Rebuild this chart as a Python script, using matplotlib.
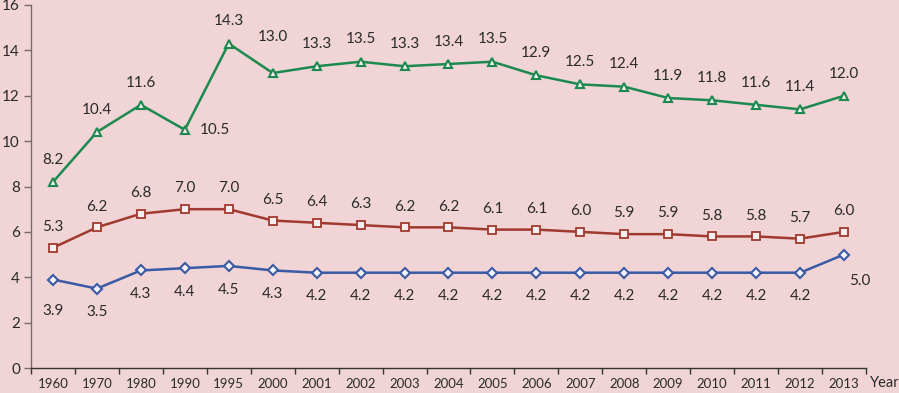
import matplotlib
matplotlib.use("Agg")
import matplotlib.pyplot as plt

years = ["1960", "1970", "1980", "1990", "1995", "2000", "2001", "2002", "2003", "2004",
         "2005", "2006", "2007", "2008", "2009", "2010", "2011", "2012", "2013"]
green = [8.2, 10.4, 11.6, 10.5, 14.3, 13.0, 13.3, 13.5, 13.3, 13.4,
         13.5, 12.9, 12.5, 12.4, 11.9, 11.8, 11.6, 11.4, 12.0]
red = [5.3, 6.2, 6.8, 7.0, 7.0, 6.5, 6.4, 6.3, 6.2, 6.2,
       6.1, 6.1, 6.0, 5.9, 5.9, 5.8, 5.8, 5.7, 6.0]
blue = [3.9, 3.5, 4.3, 4.4, 4.5, 4.3, 4.2, 4.2, 4.2, 4.2,
        4.2, 4.2, 4.2, 4.2, 4.2, 4.2, 4.2, 4.2, 5.0]
yticks = [0, 2, 4, 6, 8, 10, 12, 14, 16]

plt.rcParams['font.family'] = ['Lato', 'DejaVu Sans']
bg = '#f0d4d6'
txt = '#2a2a2a'

fig = plt.figure(figsize=(8.99, 3.93), dpi=100, facecolor=bg)
ax = fig.add_axes([31/899, 1-368/393, (866-31)/899, (368-5)/393])
ax.set_facecolor(bg)

x = list(range(len(years)))
cg, cr, cb = '#1c8a4e', '#a03a2f', '#3a5aa6'
ax.plot(x, green, color=cg, lw=1.8, marker='^', ms=6, mfc='#f4eef0', mec=cg, mew=1.5, zorder=3)
ax.plot(x, red, color=cr, lw=1.8, marker='s', ms=5.5, mfc='#f4eef0', mec=cr, mew=1.3, zorder=3)
ax.plot(x, blue, color=cb, lw=1.8, marker='D', ms=5, mfc='#f4f4f8', mec=cb, mew=1.5, zorder=3)

fs = 11
for i, v in enumerate(green):
    dx, dy = 0, 16
    if i == 3:
        dx, dy = 22, 0
    elif i == 5:
        dy = 26
    ax.annotate(f"{v:.1f}", (i, v), xytext=(dx, dy), textcoords='offset points',
                ha='center', va='center', fontsize=fs, color=txt)
for i, v in enumerate(red):
    ax.annotate(f"{v:.1f}", (i, v), xytext=(0, 15), textcoords='offset points',
                ha='center', va='center', fontsize=fs, color=txt)
for i, v in enumerate(blue):
    dx, dy = 0, -17
    if i == 0:
        dy = -23
    elif i == 18:
        dx, dy = 11, -19
    ax.annotate(f"{v:.1f}", (i, v), xytext=(dx, dy), textcoords='offset points',
                ha='center', va='center', fontsize=fs, color=txt)

ax.set_xlim(-0.5, len(years) - 0.5)
ax.set_ylim(0, 16)
ax.set_yticks(yticks)
ax.set_yticklabels([str(t) for t in yticks], fontsize=fs, color=txt)
ax.set_xticks(x)
ax.set_xticklabels(years, fontsize=9.5, color=txt)
ax.set_xticks([i - 0.5 for i in range(len(years) + 1)], minor=True)
ax.tick_params(axis='x', which='major', length=0, pad=7)
ax.tick_params(axis='x', which='minor', length=4, width=1, color='#333333', direction='out')
ax.tick_params(axis='y', length=5, width=1, color='#7a6a6a', pad=3)
for s in ['top', 'right']:
    ax.spines[s].set_visible(False)
ax.spines['left'].set_color('#7a6a6a')
ax.spines['bottom'].set_color('#333333')
ax.spines['left'].set_linewidth(1)
ax.spines['bottom'].set_linewidth(1)

fig.text(870/899, 1-383/393, "Year", fontsize=10.5, color=txt, ha='left', va='center')

fig.savefig("out.png", dpi=100, facecolor=bg)
